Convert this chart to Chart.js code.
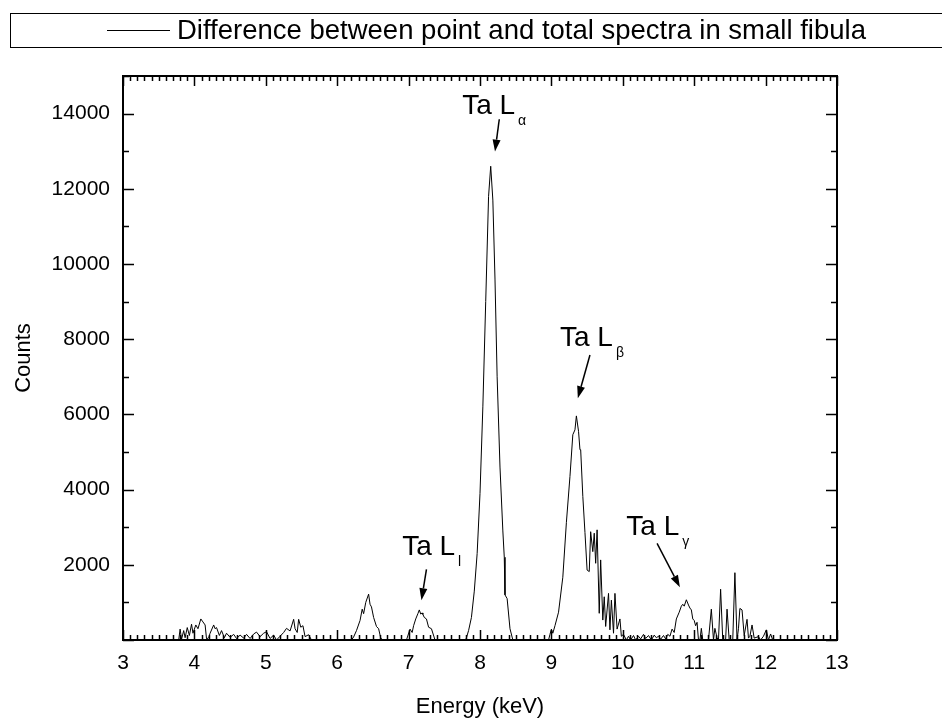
<!DOCTYPE html>
<html>
<head>
<meta charset="utf-8">
<script src="https://cdn.jsdelivr.net/npm/chart.js@4.4.0/dist/chart.umd.min.js"></script>
<style>
  html, body { margin: 0; padding: 0; background: #fff; }
  #wrap { width: 942px; height: 724px; position: relative; }
</style>
</head>
<body>
<div id="wrap"><canvas id="spectrum"></canvas></div>
<script>
const seriesLabel = 'Difference between point and total spectra in small fibula';

// energy (keV) and counts
const energy = [
  3.00, 3.78, 3.80, 3.82, 3.85, 3.87, 3.90, 3.93, 3.96, 3.98, 4.02, 4.05, 4.09, 4.12, 4.15, 4.17,
  4.20, 4.22, 4.27, 4.29, 4.31, 4.35, 4.38, 4.42, 4.45, 4.50, 4.55, 4.59, 4.64, 4.69, 4.73, 4.78,
  4.83, 4.87, 4.92, 4.97, 5.01, 5.06, 5.11, 5.15, 5.20, 5.25, 5.29, 5.34, 5.39, 5.41, 5.44, 5.46,
  5.49, 5.52, 5.55, 5.60, 5.64,
  6.20, 6.23, 6.27, 6.32, 6.35, 6.37, 6.40, 6.44, 6.46, 6.48, 6.51, 6.55, 6.58, 6.61, 6.64,
  6.97, 7.02, 7.05, 7.07, 7.10, 7.13, 7.15, 7.17, 7.19, 7.20, 7.22, 7.25, 7.28, 7.32, 7.37,
  7.80, 7.84, 7.88, 7.92, 7.96, 8.00, 8.04, 8.08, 8.12, 8.15, 8.18, 8.21, 8.24, 8.28, 8.32, 8.34,
  8.35, 8.38, 8.42, 8.46,
  8.96, 8.98, 9.00, 9.02, 9.05, 9.10, 9.16, 9.21, 9.26, 9.30, 9.33, 9.35, 9.38, 9.40, 9.41, 9.44,
  9.47, 9.50, 9.53, 9.55, 9.58, 9.60, 9.62, 9.64, 9.67, 9.69, 9.72, 9.74, 9.76, 9.80, 9.82, 9.84,
  9.87, 9.89, 9.92, 9.96, 9.98, 10.01, 10.05,
  10.08, 10.11, 10.15, 10.18, 10.22, 10.25, 10.29, 10.32, 10.36, 10.40, 10.44, 10.47, 10.50, 10.53,
  10.57, 10.60, 10.63,
  10.66, 10.69, 10.72, 10.75, 10.79, 10.82, 10.84, 10.86, 10.89, 10.92, 10.94, 10.96, 10.98, 11.00,
  11.02, 11.04, 11.06,
  11.08, 11.10, 11.12, 11.20, 11.24, 11.27, 11.29, 11.32, 11.34, 11.37, 11.40, 11.44, 11.46, 11.49,
  11.54, 11.57, 11.60, 11.62, 11.64, 11.67, 11.70, 11.74, 11.76, 11.78, 11.81, 11.84, 11.90, 11.93,
  11.97, 12.01, 12.04, 12.07, 12.10, 12.12, 13.00
];
const counts = [
  0, 0, 290, 20, 250, 60, 330, 120, 420, 180, 400, 300, 560, 480, 400, 30,
  60, 180, 400, 300, 330, 120, 250, 60, 180, 70, 150, 40, 130, 50, 150, 40,
  160, 210, 90, 180, 220, 40, 130, 0, 100, 200, 310, 240, 550, 300, 200, 550,
  340, 380, 90, 140, 0,
  0, 80, 250, 520, 820, 700, 1000, 1220, 950, 880, 600, 360, 300, 50, 0,
  0, 290, 200, 380, 560, 700, 800, 690, 720, 680, 600, 560, 340, 300, 0,
  0, 250, 600, 1300, 2300, 3900, 6200, 9000, 11800, 12600, 11700, 9600, 7000, 4600, 2900, 2200,
  1200, 1100, 300, 0,
  0, 150, 290, 180, 380, 740, 1670, 3130, 4350, 5460, 5590, 5960, 5550, 5060, 5060, 3820,
  2860, 1860, 1820, 2880, 2350, 2840, 2040, 2930, 710, 2130, 530, 1150, 360, 1240, 270, 1060,
  180, 1240, 290, 560, 100, 150, 0,
  100, 0, 120, 0, 100, 30, 150, 40, 120, 0, 130, 60, 100, 20,
  120, 30, 150,
  100, 290, 200, 560, 740, 900, 950, 900, 1070, 930, 850, 800, 560, 520,
  380, 470, 0,
  0, 310, 0, 0, 820, 0, 310, 60, 0, 1350, 0, 0, 820, 0,
  0, 1790, 0, 300, 840, 800, 120, 550, 50, 100, 400, 50, 90, 0,
  100, 270, 0, 160, 0, 0, 0
];

const xTicks = [3, 4, 5, 6, 7, 8, 9, 10, 11, 12, 13];
const yTicks = [2000, 4000, 6000, 8000, 10000, 12000, 14000];

// peak annotations: text anchor (baseline, data coords), arrow tail and head
const peakSubs = ['\u03b1', '\u03b2', '\u03b3', 'l'];
const peakTextE = [7.75, 9.12, 10.05, 6.91];
const peakTextC = [13990, 7820, 2790, 2260];
const arrowFromE = [8.27, 9.54, 10.48, 7.25];
const arrowFromC = [13850, 7580, 2570, 1880];
const arrowToE = [8.21, 9.37, 10.80, 7.18];
const arrowToC = [12990, 6430, 1400, 1060];

const FONT = '"Liberation Sans", Arial, sans-serif';

const framePlugin = {
  id: 'frame',
  afterDatasetsDraw(chart) {
    const { ctx, chartArea: a, scales: { x, y } } = chart;
    ctx.save();
    ctx.strokeStyle = '#000';
    ctx.lineWidth = 1.5;
    ctx.beginPath();
    for (let i = 30; i <= 130; i++) {
      const px = Math.round(x.getPixelForValue(i / 10)) + 0.5;
      const len = i % 10 === 0 ? 10 : 5;
      ctx.moveTo(px, a.bottom); ctx.lineTo(px, a.bottom - len);
      ctx.moveTo(px, a.top); ctx.lineTo(px, a.top + len);
    }
    for (let v = 0; v <= 15000; v += 1000) {
      const py = Math.round(y.getPixelForValue(v)) + 0.5;
      const len = v % 2000 === 0 ? 11 : 6;
      ctx.moveTo(a.left, py); ctx.lineTo(a.left + len, py);
      ctx.moveTo(a.right, py); ctx.lineTo(a.right - len, py);
    }
    ctx.stroke();
    ctx.lineWidth = 2;
    ctx.strokeRect(a.left, a.top, a.right - a.left, a.bottom - a.top);

    // peak labels
    ctx.fillStyle = '#000';
    ctx.textBaseline = 'alphabetic';
    ctx.textAlign = 'left';
    for (let i = 0; i < peakSubs.length; i++) {
      const tx = x.getPixelForValue(peakTextE[i]);
      const ty = y.getPixelForValue(peakTextC[i]);
      ctx.font = '28px ' + FONT;
      ctx.fillText('Ta L', tx, ty);
      const w = ctx.measureText('Ta L').width;
      ctx.font = '14px ' + FONT;
      ctx.fillText(peakSubs[i], tx + w + 3, ty + 11);

      const x0 = x.getPixelForValue(arrowFromE[i]), y0 = y.getPixelForValue(arrowFromC[i]);
      const x1 = x.getPixelForValue(arrowToE[i]), y1 = y.getPixelForValue(arrowToC[i]);
      const ang = Math.atan2(y1 - y0, x1 - x0);
      const hl = 12, hw = 4;
      const bx = x1 - hl * Math.cos(ang), by = y1 - hl * Math.sin(ang);
      ctx.lineWidth = 1.5;
      ctx.beginPath();
      ctx.moveTo(x0, y0); ctx.lineTo(bx, by);
      ctx.stroke();
      ctx.beginPath();
      ctx.moveTo(x1, y1);
      ctx.lineTo(bx + hw * Math.sin(ang), by - hw * Math.cos(ang));
      ctx.lineTo(bx - hw * Math.sin(ang), by + hw * Math.cos(ang));
      ctx.closePath();
      ctx.fill();
    }
    ctx.restore();
  }
};

const legendBoxPlugin = {
  id: 'legendBox',
  afterDraw(chart) {
    const { ctx, width } = chart;
    const ds = chart.data.datasets[0];
    ctx.save();
    ctx.strokeStyle = '#000';
    ctx.lineWidth = 1;
    ctx.strokeRect(10.5, 13.5, width, 34);
    ctx.strokeStyle = ds.borderColor;
    ctx.beginPath();
    ctx.moveTo(107, 30.5); ctx.lineTo(170, 30.5);
    ctx.stroke();
    ctx.fillStyle = '#000';
    ctx.font = '27.5px ' + FONT;
    ctx.textBaseline = 'middle';
    ctx.fillText(ds.label, 177, 31);
    ctx.restore();
  }
};

new Chart(document.getElementById('spectrum'), {
  type: 'line',
  data: {
    datasets: [{
      label: seriesLabel,
      data: energy.map((e, i) => ({ x: e, y: counts[i] })),
      borderColor: '#000',
      borderWidth: 1,
      pointRadius: 0,
      tension: 0,
      fill: false
    }]
  },
  options: {
    responsive: true,
    maintainAspectRatio: false,
    animation: false,
    layout: { padding: { top: 76, right: 105, left: 0, bottom: 0 } },
    plugins: {
      legend: { display: false },
      tooltip: { enabled: false }
    },
    scales: {
      x: {
        type: 'linear',
        min: 3,
        max: 13,
        afterFit(s) { s.height = 84; },
        afterBuildTicks(s) { s.ticks = xTicks.map(v => ({ value: v })); },
        grid: { display: false, drawTicks: false },
        border: { display: false },
        ticks: { color: '#000', font: { family: FONT, size: 21 }, padding: 11,
                 callback: v => String(v) },
        title: { display: true, text: 'Energy (keV)', color: '#000',
                 font: { family: FONT, size: 22 }, padding: { top: 0, bottom: 4 } }
      },
      y: {
        min: 0,
        max: 15000,
        afterFit(s) { s.width = 123; },
        afterBuildTicks(s) { s.ticks = yTicks.map(v => ({ value: v })); },
        grid: { display: false, drawTicks: false },
        border: { display: false },
        ticks: { color: '#000', font: { family: FONT, size: 21 }, padding: 13,
                 callback: v => String(v) },
        title: { display: true, text: 'Counts', color: '#000',
                 font: { family: FONT, size: 22 }, padding: { top: 11, bottom: 0 } }
      }
    }
  },
  plugins: [framePlugin, legendBoxPlugin]
});
</script>
</body>
</html>
